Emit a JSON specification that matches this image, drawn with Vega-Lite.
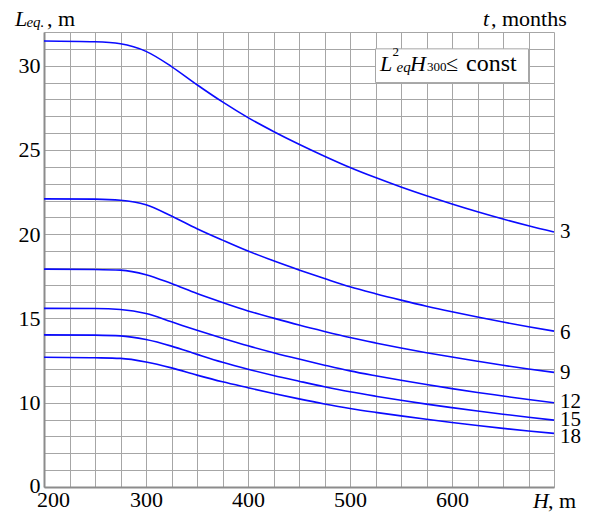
{
  "$schema": "https://vega.github.io/schema/vega-lite/v6.json",
  "width": 510,
  "height": 455,
  "autosize": {"type": "none"},
  "padding": {"left": 44, "top": 32, "right": 39, "bottom": 25},
  "background": "white",
  "config": {
    "view": {"stroke": null},
    "font": "Liberation Serif",
    "text": {"font": "Liberation Serif", "color": "black"},
    "axis": {
      "grid": true, "gridColor": "#a6a6a6", "gridWidth": 1,
      "ticks": false, "domainColor": "#8c8c8c", "domainWidth": 2,
      "labelFont": "Liberation Serif", "labelFontSize": 22, "labelColor": "black",
      "labelOverlap": false, "labelFlush": false, "labelBound": false, "title": null
    }
  },
  "datasets": {
    "curves": [
      {"t":3,"H":200,"L":31.47},{"t":3,"H":250,"L":31.42},{"t":3,"H":275,"L":31.30},{"t":3,"H":300,"L":30.85},{"t":3,"H":325,"L":29.95},{"t":3,"H":350,"L":28.87},{"t":3,"H":375,"L":27.85},{"t":3,"H":400,"L":26.92},{"t":3,"H":425,"L":26.10},{"t":3,"H":450,"L":25.34},{"t":3,"H":475,"L":24.63},{"t":3,"H":500,"L":23.96},{"t":3,"H":525,"L":23.36},{"t":3,"H":550,"L":22.80},{"t":3,"H":575,"L":22.28},{"t":3,"H":600,"L":21.79},{"t":3,"H":625,"L":21.33},{"t":3,"H":650,"L":20.90},{"t":3,"H":675,"L":20.50},{"t":3,"H":700,"L":20.13},
      {"t":6,"H":200,"L":22.10},{"t":6,"H":250,"L":22.08},{"t":6,"H":275,"L":22.02},{"t":6,"H":300,"L":21.75},{"t":6,"H":325,"L":21.08},{"t":6,"H":350,"L":20.33},{"t":6,"H":375,"L":19.65},{"t":6,"H":400,"L":19.00},{"t":6,"H":425,"L":18.42},{"t":6,"H":450,"L":17.88},{"t":6,"H":475,"L":17.37},{"t":6,"H":500,"L":16.88},{"t":6,"H":525,"L":16.47},{"t":6,"H":550,"L":16.09},{"t":6,"H":575,"L":15.73},{"t":6,"H":600,"L":15.40},{"t":6,"H":625,"L":15.09},{"t":6,"H":650,"L":14.79},{"t":6,"H":675,"L":14.51},{"t":6,"H":700,"L":14.25},
      {"t":9,"H":200,"L":17.93},{"t":9,"H":250,"L":17.91},{"t":9,"H":275,"L":17.87},{"t":9,"H":300,"L":17.60},{"t":9,"H":325,"L":17.07},{"t":9,"H":350,"L":16.48},{"t":9,"H":375,"L":15.95},{"t":9,"H":400,"L":15.45},{"t":9,"H":425,"L":15.02},{"t":9,"H":450,"L":14.61},{"t":9,"H":475,"L":14.23},{"t":9,"H":500,"L":13.87},{"t":9,"H":525,"L":13.55},{"t":9,"H":550,"L":13.25},{"t":9,"H":575,"L":12.97},{"t":9,"H":600,"L":12.71},{"t":9,"H":625,"L":12.46},{"t":9,"H":650,"L":12.22},{"t":9,"H":675,"L":12.00},{"t":9,"H":700,"L":11.80},
      {"t":12,"H":200,"L":15.60},{"t":12,"H":250,"L":15.59},{"t":12,"H":275,"L":15.53},{"t":12,"H":300,"L":15.29},{"t":12,"H":325,"L":14.80},{"t":12,"H":350,"L":14.30},{"t":12,"H":375,"L":13.83},{"t":12,"H":400,"L":13.38},{"t":12,"H":425,"L":12.97},{"t":12,"H":450,"L":12.59},{"t":12,"H":475,"L":12.23},{"t":12,"H":500,"L":11.89},{"t":12,"H":525,"L":11.60},{"t":12,"H":550,"L":11.33},{"t":12,"H":575,"L":11.08},{"t":12,"H":600,"L":10.84},{"t":12,"H":625,"L":10.61},{"t":12,"H":650,"L":10.40},{"t":12,"H":675,"L":10.19},{"t":12,"H":700,"L":10.00},
      {"t":15,"H":200,"L":14.03},{"t":15,"H":250,"L":14.01},{"t":15,"H":275,"L":13.97},{"t":15,"H":300,"L":13.75},{"t":15,"H":325,"L":13.36},{"t":15,"H":350,"L":12.87},{"t":15,"H":375,"L":12.40},{"t":15,"H":400,"L":11.99},{"t":15,"H":425,"L":11.62},{"t":15,"H":450,"L":11.28},{"t":15,"H":475,"L":10.95},{"t":15,"H":500,"L":10.65},{"t":15,"H":525,"L":10.39},{"t":15,"H":550,"L":10.15},{"t":15,"H":575,"L":9.92},{"t":15,"H":600,"L":9.71},{"t":15,"H":625,"L":9.51},{"t":15,"H":650,"L":9.32},{"t":15,"H":675,"L":9.14},{"t":15,"H":700,"L":8.97},
      {"t":18,"H":200,"L":12.70},{"t":18,"H":250,"L":12.67},{"t":18,"H":275,"L":12.63},{"t":18,"H":300,"L":12.42},{"t":18,"H":325,"L":12.07},{"t":18,"H":350,"L":11.64},{"t":18,"H":375,"L":11.24},{"t":18,"H":400,"L":10.89},{"t":18,"H":425,"L":10.55},{"t":18,"H":450,"L":10.23},{"t":18,"H":475,"L":9.93},{"t":18,"H":500,"L":9.66},{"t":18,"H":525,"L":9.43},{"t":18,"H":550,"L":9.22},{"t":18,"H":575,"L":9.02},{"t":18,"H":600,"L":8.83},{"t":18,"H":625,"L":8.65},{"t":18,"H":650,"L":8.48},{"t":18,"H":675,"L":8.32},{"t":18,"H":700,"L":8.18}
    ],
    "endLabels": [
      {"s":"3","H":700,"L":20.14},{"s":"6","H":700,"L":14.15},{"s":"9","H":700,"L":11.78},
      {"s":"12","H":700,"L":10.05},{"s":"15","H":700,"L":8.97},{"s":"18","H":700,"L":7.94}
    ],
    "box": [{"H":525,"H2":675,"L":29,"L2":31}],
    "italicBig": [
      {"s":"L","H":529.4,"L":29.69},{"s":"H","H":558.8,"L":29.69},
      {"s":"L","H":171.6,"L":32.34},{"s":"t","H":630.4,"L":32.34},
      {"s":"H","H":679.4,"L":3.73}
    ],
    "italicSmall": [
      {"s":"eq","H":545.6,"L":29.61},{"s":"eq.","H":182.8,"L":32.31}
    ],
    "regularSmall": [
      {"s":"2","H":541.7,"L":30.56},{"s":"300","H":575.5,"L":29.69}
    ],
    "regularBig": [
      {"s":", m","H":202.9,"L":32.34},{"s":", months","H":638.2,"L":32.34},
      {"s":", m","H":694.1,"L":3.73},{"s":"≤","H":594.1,"L":29.69}
    ],
    "constText": [{"s":"const","H":613.7,"L":29.69}]
  },
  "encoding": {
    "x": {
      "field": "H", "type": "quantitative",
      "scale": {"domain": [200, 700], "nice": false, "zero": false},
      "axis": {
        "values": [200,225,250,275,300,325,350,375,400,425,450,475,500,525,550,575,600,625,650,675,700],
        "labelExpr": "datum.value % 100 == 0 && datum.value < 700 ? datum.label : ''",
        "labelFont": "Liberation Serif",
        "labelPadding": 2,
        "labelOffset": {"condition": {"test": "datum.value == 200", "value": 9}, "value": 0}
      }
    },
    "y": {
      "field": "L", "type": "quantitative",
      "scale": {"domain": [5, 32], "nice": false, "zero": false},
      "axis": {
        "values": [5,6,7,8,9,10,11,12,13,14,15,16,17,18,19,20,21,22,23,24,25,26,27,28,29,30,31,32],
        "labelExpr": "datum.value == 5 ? '0' : (datum.value % 5 == 0 ? datum.label : '')",
        "labelFont": "Liberation Serif",
        "labelPadding": 4,
        "labelOffset": {"condition": {"test": "datum.value == 5", "value": -2}, "value": 0}
      }
    }
  },
  "layer": [
    {
      "data": {"name": "box"},
      "mark": {"type": "rect", "fill": "white", "stroke": "#a6a6a6", "strokeWidth": 1},
      "encoding": {"x2": {"field": "H2"}, "y2": {"field": "L2"}}
    },
    {
      "data": {"name": "curves"},
      "mark": {"type": "line", "interpolate": "monotone", "color": "#0a0aff", "strokeWidth": 1.6},
      "encoding": {"detail": {"field": "t", "type": "nominal"}}
    },
    {
      "data": {"name": "endLabels"},
      "mark": {"type": "text", "align": "left", "baseline": "middle", "dx": 6, "fontSize": 21, "font": "Liberation Serif"},
      "encoding": {"text": {"field": "s"}}
    },
    {
      "data": {"name": "italicBig"},
      "mark": {"type": "text", "align": "left", "baseline": "alphabetic", "fontSize": 22, "fontStyle": "italic", "font": "Liberation Serif"},
      "encoding": {"text": {"field": "s"}}
    },
    {
      "data": {"name": "italicSmall"},
      "mark": {"type": "text", "align": "left", "baseline": "alphabetic", "fontSize": 15, "fontStyle": "italic", "font": "Liberation Serif"},
      "encoding": {"text": {"field": "s"}}
    },
    {
      "data": {"name": "regularSmall"},
      "mark": {"type": "text", "align": "left", "baseline": "alphabetic", "fontSize": 13, "font": "Liberation Serif"},
      "encoding": {"text": {"field": "s"}}
    },
    {
      "data": {"name": "regularBig"},
      "mark": {"type": "text", "align": "left", "baseline": "alphabetic", "fontSize": 22, "font": "Liberation Serif"},
      "encoding": {"text": {"field": "s"}}
    },
    {
      "data": {"name": "constText"},
      "mark": {"type": "text", "align": "left", "baseline": "alphabetic", "fontSize": 24, "font": "Liberation Serif"},
      "encoding": {"text": {"field": "s"}}
    }
  ]
}
